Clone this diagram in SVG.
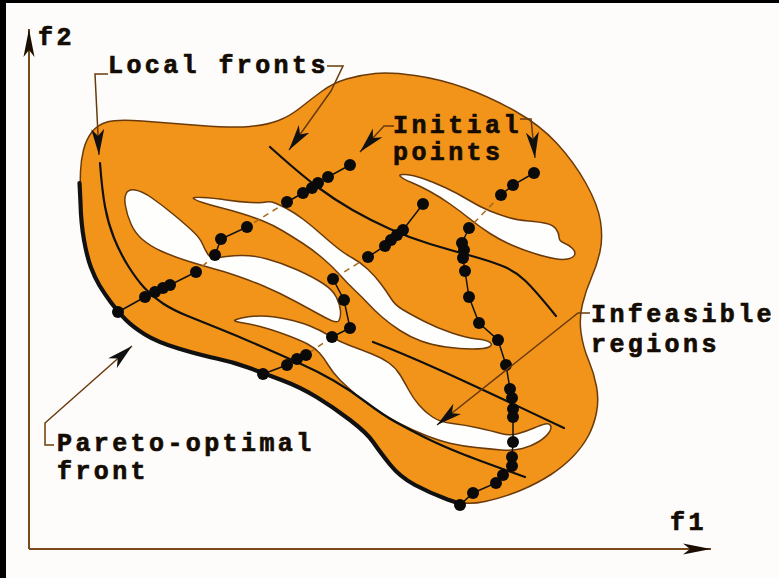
<svg xmlns="http://www.w3.org/2000/svg" width="779" height="578" viewBox="0 0 779 578">
<style>
.lbl{font-family:"Liberation Mono","DejaVu Sans Mono",monospace;font-weight:bold;font-size:25px;letter-spacing:3.4px;fill:#140c02;stroke:#140c02;stroke-width:0.7px}
.outline{fill:#f2941a;stroke:#6a3a0a;stroke-width:1.5}
.hole{fill:#fefefc;stroke:#6a3a0a;stroke-width:1.5}
.front{fill:none;stroke:#111;stroke-width:2.2;stroke-linecap:round}
.pareto{fill:none;stroke:#111;stroke-width:4.2;stroke-linecap:round;stroke-linejoin:round}
.chain{fill:none;stroke:#111;stroke-width:1.5}
.dash{fill:none;stroke:#a8681c;stroke-width:1.5;stroke-dasharray:6 5}
.dot{fill:#0a0a0a}
.leader{fill:none;stroke:#6a3a0a;stroke-width:1.5}
.axis{fill:none;stroke:#7a4a1a;stroke-width:2}
</style>
<defs>
<marker id="ah" markerUnits="userSpaceOnUse" markerWidth="28" markerHeight="14" refX="26" refY="7" orient="auto" viewBox="0 0 28 14">
<path d="M0,0.5 L26,7 L0,13.5 L7,7 Z" fill="#111"/>
</marker>
<marker id="ax" markerUnits="userSpaceOnUse" markerWidth="30" markerHeight="14" refX="28" refY="7" orient="auto" viewBox="0 0 30 14">
<path d="M0,1.5 L28,7 L0,12.5 L7,7 Z" fill="#1a0e02"/>
</marker>
</defs>
<rect x="0" y="0" width="779" height="578" fill="#fdfcfa"/>
<rect x="0" y="0" width="6" height="578" fill="#000"/>
<rect x="0" y="0" width="779" height="3" fill="#000"/>

<g id="axes">
<path class="axis" d="M29,549 L29,29" marker-end="url(#ax)"/>
<path class="axis" d="M29,549 L711,549" marker-end="url(#ax)"/>
</g>

<g id="search-space">
<path class="outline" d="M 80.5,203 Q 80,183 80.5,171.5 Q 81,160 83.5,150 Q 86,140 91.5,132.5 Q 97,125 107,122 Q 117,119 142,121 Q 167,123 200,125.5 Q 233,128 250,126.5 Q 267,125 278.5,120.5 Q 290,116 300,108 Q 310,100 321.5,91.5 Q 333,83 346.5,79 Q 360,75 375,73.5 Q 390,72 415,75.5 Q 440,79 465,88 Q 490,97 515,111 Q 540,125 557,143.5 Q 574,162 586,183.5 Q 598,205 600.5,221.5 Q 603,238 600,251.5 Q 597,265 591.5,277.5 Q 586,290 582.5,304 Q 579,318 581,332.5 Q 583,347 588.5,360 Q 594,373 596.5,386.5 Q 599,400 596.5,412.5 Q 594,425 588.5,435.5 Q 583,446 573.5,456 Q 564,466 551,474.5 Q 538,483 521.5,490 Q 505,497 485,501.5 Q 465,506 447.5,499.5 Q 430,493 415,485 Q 400,477 390,464.5 Q 380,452 373.5,442.5 Q 367,433 350,420 Q 333,407 316.5,397 Q 300,387 281.5,380 Q 263,373 248,367.5 Q 233,362 216.5,358.5 Q 200,355 178.5,348.5 Q 157,342 145,334.5 Q 133,327 125.5,319.5 Q 118,312 111,302.5 Q 104,293 99.5,285.5 Q 95,278 91,267.5 Q 87,257 84,240 Q 81,223 80.5,203 Z"/>
</g>

<g id="infeasible-regions">
<path class="hole" d="M 126,194 Q 128,189 135,190 Q 142,191 152,198 Q 162,205 173.5,214.5 Q 185,224 192.5,231 Q 200,238 202.5,244 Q 205,250 208,254.5 Q 211,259 219.5,257.5 Q 228,256 240,255.5 Q 252,255 267,259 Q 282,263 297.5,270 Q 313,277 323,283.5 Q 333,290 336.5,297.5 Q 340,305 340.5,311 Q 341,317 339,320.5 Q 337,324 325,317.5 Q 313,311 296.5,302 Q 280,293 263.5,286 Q 247,279 223.5,271.5 Q 200,265 186,260.5 Q 172,256 161,251 Q 150,246 142.5,239.5 Q 135,233 131,224 Q 127,215 125.5,206 Q 124,198 126,194 Z"/>
<path class="hole" d="M 193.5,198.5 Q 192,197 202.5,197.5 Q 213,198 226.5,200 Q 240,202 251,202.5 Q 262,203 266,202 Q 270,201 275,203 Q 280,205 287.5,209 Q 295,213 303.5,219.5 Q 312,226 321,234 Q 330,242 337.5,248 Q 345,254 352.5,258 Q 360,262 367.5,269 Q 375,276 381,284 Q 387,292 391,298.5 Q 395,305 402.5,309.5 Q 410,314 423.5,321 Q 437,328 452,333 Q 467,338 477,339 Q 487,340 490,342.5 Q 493,345 489,347 Q 485,349 472.5,349 Q 460,349 446,347 Q 432,345 421,341 Q 410,337 400,330.5 Q 390,324 382,317 Q 374,310 368,303.5 Q 362,297 354.5,290 Q 347,283 340,275 Q 333,267 323,258.5 Q 313,250 303,243.5 Q 293,237 283,231 Q 273,225 263,221 Q 253,217 241.5,213.5 Q 230,210 220,207.5 Q 210,205 202.5,202.5 Q 195,200 193.5,198.5 Z"/>
<path class="hole" d="M 400.5,176.5 Q 398,174 405.5,174.5 Q 413,175 423,178.5 Q 433,182 445,187.5 Q 457,193 468.5,200 Q 480,207 490,211 Q 500,215 508.5,217.5 Q 517,220 528.5,221 Q 540,222 546.5,223.5 Q 553,225 556,229 Q 559,233 559,237 Q 559,241 564,243 Q 569,245 572.5,248.5 Q 576,252 574.5,255 Q 573,258 567.5,259 Q 562,260 554,258.5 Q 546,257 534.5,253.5 Q 523,250 511.5,245 Q 500,240 490,233.5 Q 480,227 470,219 Q 460,211 450,204 Q 440,197 430,191.5 Q 420,186 411.5,182.5 Q 403,179 400.5,176.5 Z"/>
<path class="hole" d="M 235,321 Q 233,320 241.5,318 Q 250,316 261,316 Q 272,316 286,319 Q 300,322 310,326 Q 320,330 330,336 Q 340,342 351,346 Q 362,350 372,354 Q 382,358 389,363 Q 396,368 400.5,375.5 Q 405,383 409,390.5 Q 413,398 419,405 Q 425,412 432.5,417 Q 440,422 452.5,423.5 Q 465,425 478.5,428 Q 492,431 501,433.5 Q 510,436 518.5,433.5 Q 527,431 534,428 Q 541,425 545,424 Q 549,423 550.5,425.5 Q 552,428 549,432.5 Q 546,437 539,441.5 Q 532,446 522.5,448.5 Q 513,451 501.5,450 Q 490,449 476,447.5 Q 462,446 451,443.5 Q 440,441 426,435.5 Q 412,430 399.5,423.5 Q 387,417 376,409.5 Q 365,402 356,394.5 Q 347,387 340,380 Q 333,373 328.5,365.5 Q 324,358 319.5,353 Q 315,348 307.5,344 Q 300,340 285,334.5 Q 270,329 260,326.5 Q 250,324 243.5,323 Q 237,322 235,321 Z"/>
</g>

<g id="local-fronts">
<path class="front" d="M 100,163 Q 102,190 105,206.5 Q 108,223 114,238 Q 120,253 128.5,266.5 Q 137,280 145,288.5 Q 153,297 163,303.5 Q 173,310 186.5,315.5 Q 200,321 220,329 Q 240,337 261.5,346.5 Q 283,356 300,363.5 Q 317,371 333.5,380.5 Q 350,390 366.5,402.5 Q 383,415 396.5,422.5 Q 410,430 425,437.5 Q 440,445 460,453 Q 480,461 525,477"/>
<path class="front" d="M 270,147 Q 300,174 317.5,187 Q 335,200 352.5,210 Q 370,220 390,229 Q 410,238 430,244 Q 450,250 470,255.5 Q 490,261 502.5,266 Q 515,271 525,280.5 Q 535,290 556,316"/>
<path class="front" d="M 373,342 C 410,356 450,374 564,428"/>
</g>

<g id="pareto-front">
<path class="pareto" d="M 462,504.5 Q 455,502 447.5,499.5 Q 430,493 415,485 Q 400,477 390,464.5 Q 380,452 373.5,442.5 Q 367,433 350,420 Q 333,407 316.5,397 Q 300,387 281.5,380 Q 263,373 248,367.5 Q 233,362 216.5,358.5 Q 200,355 178.5,348.5 Q 157,342 145,334.5 Q 133,327 125.5,319.5 Q 118,312 111,302.5 Q 104,293 99.5,285.5 Q 95,278 91,267.5 Q 87,257 84,240 Q 81,223 80.5,203 Q 80,192 79.5,183"/>
</g>

<g id="search-paths">
<polyline class="chain" points="350,165 328,177 318,183 312,188 303,193 287,202"/>
<polyline class="dash" points="287,202 247,227"/>
<polyline class="chain" points="247,227 221,239 215,255"/>
<polyline class="dash" points="215,255 196,272"/>
<polyline class="chain" points="196,272 170,285 163,288 155,292 145,297 118,312"/>

<polyline class="chain" points="423,204 403,230 397,235 391,240 385,246 368,257"/>
<polyline class="dash" points="368,257 333,279"/>
<polyline class="chain" points="333,279 344,300 350,328 332,337"/>
<polyline class="dash" points="332,337 306,355"/>
<polyline class="chain" points="306,355 297,359 287,365 263,374"/>

<polyline class="chain" points="534,173 513,185 501,195"/>
<polyline class="dash" points="501,195 469,228"/>
<polyline class="chain" points="469,228 462,243 464,250 463,258 465,271 469,297 479,323 498,340 506,365 510,389 512,398 513,409 513,417 513,442 512,457 512,466 503,475 496,483 473,493 460,505"/>

<g class="dot">
<circle cx="350" cy="165" r="6"/><circle cx="328" cy="177" r="6"/><circle cx="318" cy="183" r="6"/><circle cx="312" cy="188" r="6"/><circle cx="303" cy="193" r="6"/><circle cx="287" cy="202" r="6"/>
<circle cx="247" cy="227" r="6"/><circle cx="221" cy="239" r="6"/><circle cx="215" cy="255" r="6"/>
<circle cx="196" cy="272" r="6"/><circle cx="170" cy="285" r="6"/><circle cx="163" cy="288" r="6"/><circle cx="155" cy="292" r="6"/><circle cx="145" cy="297" r="6"/><circle cx="118" cy="312" r="6"/>
<circle cx="423" cy="204" r="6"/><circle cx="403" cy="230" r="6"/><circle cx="397" cy="235" r="6"/><circle cx="391" cy="240" r="6"/><circle cx="385" cy="246" r="6"/><circle cx="368" cy="257" r="6"/>
<circle cx="333" cy="279" r="6"/><circle cx="344" cy="300" r="6"/><circle cx="350" cy="328" r="6"/><circle cx="332" cy="337" r="6"/>
<circle cx="306" cy="355" r="6"/><circle cx="297" cy="359" r="6"/><circle cx="287" cy="365" r="6"/><circle cx="263" cy="374" r="6"/>
<circle cx="534" cy="173" r="6"/><circle cx="513" cy="185" r="6"/><circle cx="501" cy="195" r="6"/>
<circle cx="469" cy="228" r="6"/><circle cx="462" cy="243" r="6"/><circle cx="464" cy="250" r="6"/><circle cx="463" cy="258" r="6"/><circle cx="465" cy="271" r="6"/><circle cx="469" cy="297" r="6"/><circle cx="479" cy="323" r="6"/><circle cx="498" cy="340" r="6"/><circle cx="506" cy="365" r="6"/><circle cx="510" cy="389" r="6"/><circle cx="512" cy="398" r="6"/><circle cx="513" cy="409" r="6"/><circle cx="513" cy="417" r="6"/><circle cx="513" cy="442" r="6"/><circle cx="512" cy="457" r="6"/><circle cx="512" cy="466" r="6"/><circle cx="503" cy="475" r="6"/><circle cx="496" cy="483" r="6"/><circle cx="473" cy="493" r="6"/><circle cx="460" cy="505" r="6"/>
</g>
</g>

<g id="connectors">
<polyline class="leader" points="108,74 95,74 99,155" marker-end="url(#ah)"/>
<polyline class="leader" points="327,66 343,66 331,91 289,150" marker-end="url(#ah)"/>
<polyline class="leader" points="394,126 384,126 360,152" marker-end="url(#ah)"/>
<polyline class="leader" points="520,119 531,119 535,158" marker-end="url(#ah)"/>
<polyline class="leader" points="590,313 578,313 437,425" marker-end="url(#ah)"/>
<polyline class="leader" points="54,445 45,445 45,423 132,346" marker-end="url(#ah)"/>
</g>

<g id="label-f2"><text class="lbl" x="38" y="45">f2</text></g>
<g id="label-f1"><text class="lbl" x="670" y="530">f1</text></g>
<g id="label-local-fronts"><text class="lbl" x="108" y="73">Local fronts</text></g>
<g id="label-initial-points"><text class="lbl" x="393" y="133">Initial</text><text class="lbl" x="393" y="160">points</text></g>
<g id="label-infeasible-regions"><text class="lbl" x="591" y="322">Infeasible</text><text class="lbl" x="591" y="352">regions</text></g>
<g id="label-pareto-front"><text class="lbl" x="57" y="451">Pareto-optimal</text><text class="lbl" x="57" y="479">front</text></g>
</svg>
